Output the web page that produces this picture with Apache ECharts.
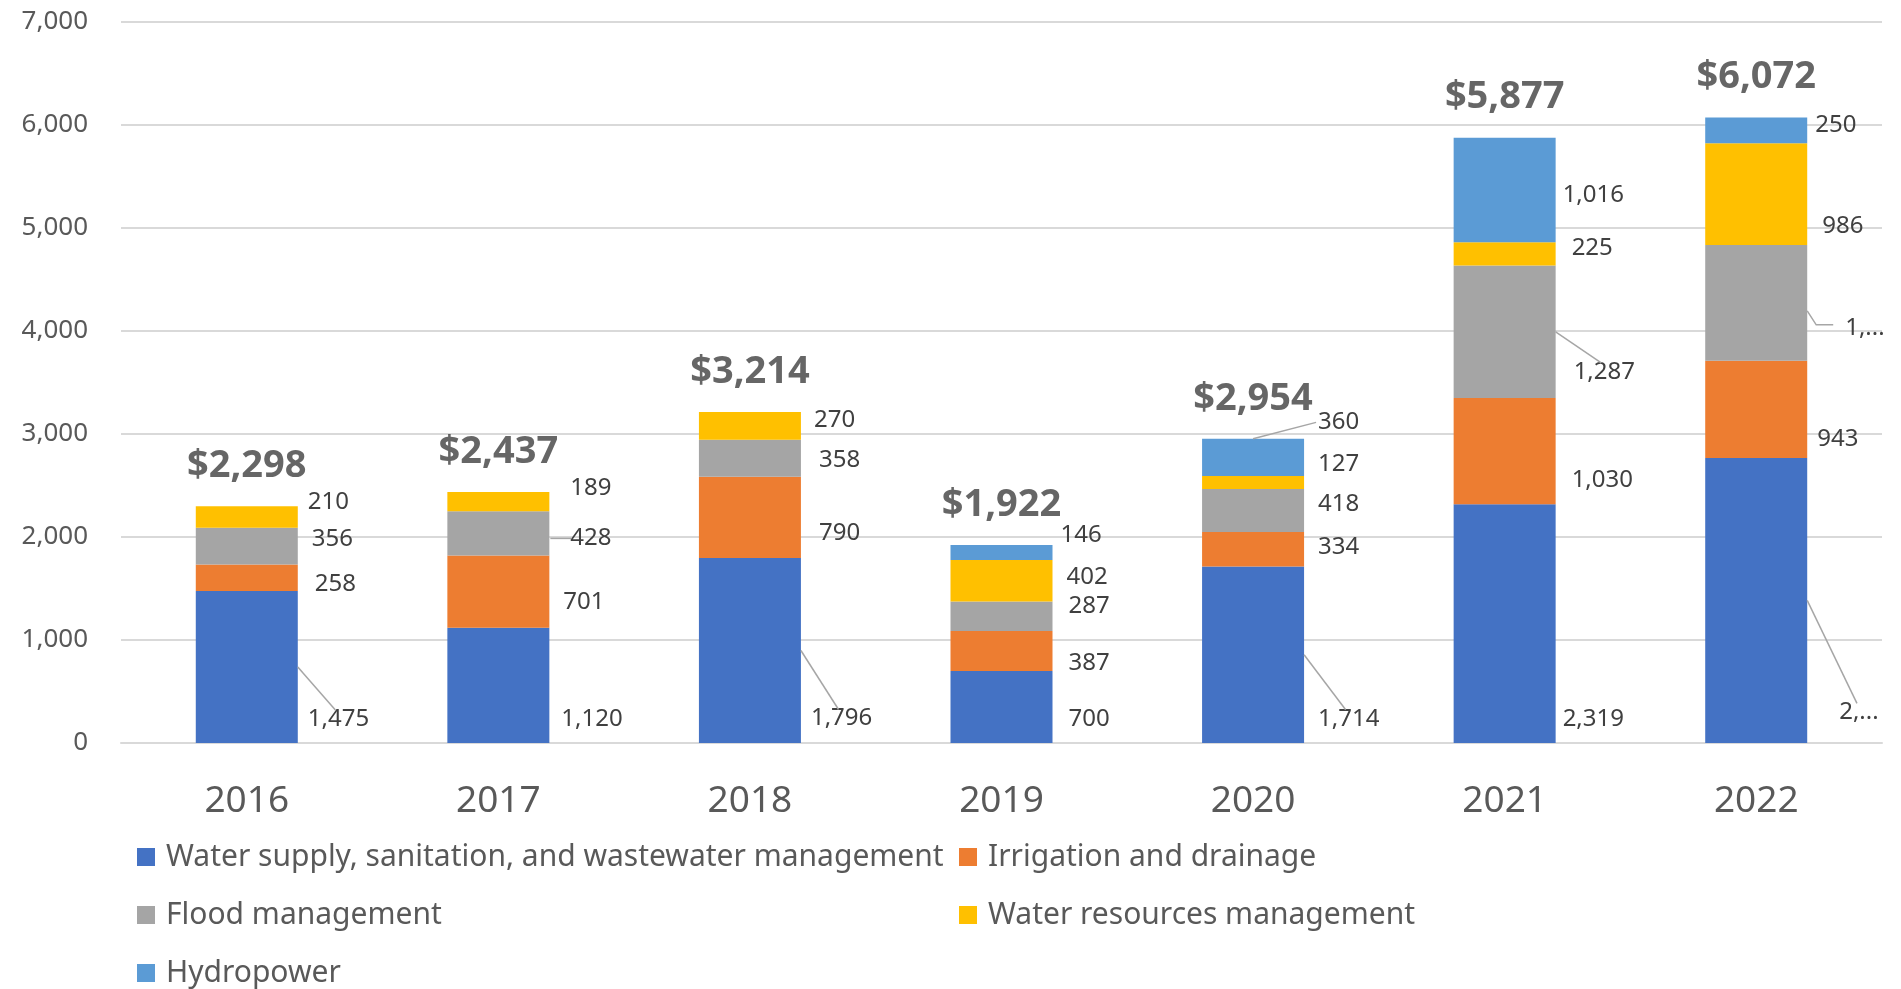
<!DOCTYPE html>
<html>
<head>
<meta charset="utf-8">
<script src="https://cdn.jsdelivr.net/npm/echarts@6/dist/echarts.min.js"></script>
<style>
  html, body { margin: 0; padding: 0; background: #fff; }
  #main { width: 1901px; height: 989px; }
</style>
</head>
<body>
<div id="main"></div>
<script>
// categories
const years = ['2016', '2017', '2018', '2019', '2020', '2021', '2022'];

// series values (US$ millions)
const waterSupply = [1475, 1120, 1796, 700, 1714, 2319, 2768];
const irrigation = [258, 701, 790, 387, 334, 1030, 943];
const flood = [356, 428, 358, 287, 418, 1287, 1125];
const waterResources = [210, 189, 270, 402, 127, 225, 986];
const hydropower = [null, null, null, 146, 360, 1016, 250];
const totals = [2298, 2437, 3214, 1922, 2954, 5877, 6072];

// value axis
const yMin = 0;
const yMax = 7000;
const yStep = 1000;

const names = [
  'Water supply, sanitation, and wastewater management',
  'Irrigation and drainage',
  'Flood management',
  'Water resources management',
  'Hydropower'
];
const colors = ['#4472C4', '#ED7D31', '#A5A5A5', '#FFC000', '#5B9BD5'];

// label nudges [dx, dy, leader type] -- the labels were placed by hand in the original
// leader type: 0 none, 1 diagonal down, 2 short dash, 3 elbow, 4 up from top edge
const nudge = [
  [[-4, 52, 1], [-2, 34, 0], [-4, 68, 1], [2, 12, 0], [0, 64, 1], [-7, 96, 0], [18, 112, 1]],
  [[3, 6, 0], [0, 11, 0], [4, 16, 0], [2, 12, 0], [0, -2, 0], [2, 29, 0], [-4, 30, 0]],
  [[0, -7, 0], [7, 5, 2], [4, 2, 0], [2, -10, 0], [0, -6, 0], [4, 40, 1], [24, 25, 3]],
  [[-4, -15, 0], [7, -13, 0], [-1, -6, 0], [0, -4, 0], [0, -18, 0], [2, -6, 0], [1, 32, 0]],
  [[0, 0, 0], [0, 0, 0], [0, 0, 0], [-6, -17, 0], [0, -35, 4], [-7, 5, 0], [-6, -5, 0]]
];
// labels clipped at the right edge in the original
const clipped = { 0: [6], 2: [6] };

const fmt = (v) => v.toLocaleString('en-US');
const FONT = 'Noto Sans';
const LEADER = { stroke: '#A6A6A6', lineWidth: 1.5 };

const chart = echarts.init(document.getElementById('main'));
const placed = {};

const stackSeries = [waterSupply, irrigation, flood, waterResources, hydropower].map((arr, si) => ({
  name: names[si],
  type: 'bar',
  stack: 'total',
  barWidth: 102,
  itemStyle: { color: colors[si] },
  label: {
    show: true,
    position: 'right',
    distance: 14,
    color: '#404040',
    fontFamily: FONT,
    fontSize: 24,
    formatter: (p) => fmt(p.value)
  },
  labelLayout: (p) => {
    const n = nudge[si][p.dataIndex];
    if (n[2]) {
      placed[si + '_' + p.dataIndex] = {
        type: n[2],
        r: p.rect,
        l: { x: p.labelRect.x + n[0], y: p.labelRect.y + n[1], w: p.labelRect.width, h: p.labelRect.height }
      };
    }
    return { dx: n[0], dy: n[1] };
  },
  data: arr.map((v, i) => {
    if (v == null) return null;
    const item = { value: v };
    if (clipped[si] && clipped[si].indexOf(i) >= 0) {
      item.label = { width: 47, overflow: 'truncate', ellipsis: '...' };
    }
    return item;
  })
}));

const legendBase = {
  orient: 'vertical',
  top: 842,
  padding: 0,
  itemGap: 28,
  itemWidth: 18,
  itemHeight: 18,
  icon: 'rect',
  textStyle: { color: '#595959', fontSize: 30, fontFamily: FONT, padding: [0, 0, 0, 6] }
};

const option = {
  animation: false,
  backgroundColor: '#fff',
  textStyle: { fontFamily: FONT },
  grid: { left: 121, right: 19, top: 22, bottom: 246 },
  legend: [
    Object.assign({}, legendBase, { left: 137, data: [names[0], names[2], names[4]] }),
    Object.assign({}, legendBase, { left: 959, data: [names[1], names[3]] })
  ],
  xAxis: {
    type: 'category',
    data: years,
    axisTick: { show: false },
    axisLine: { lineStyle: { color: '#D9D9D9', width: 2 } },
    axisLabel: { color: '#595959', fontSize: 37, fontFamily: FONT, margin: 40 }
  },
  yAxis: {
    type: 'value',
    min: yMin,
    max: yMax,
    interval: yStep,
    axisLine: { show: false },
    axisTick: { show: false },
    splitLine: { lineStyle: { color: '#D9D9D9', width: 2 } },
    axisLabel: {
      color: '#595959',
      fontSize: 26,
      fontFamily: FONT,
      margin: 33,
      formatter: (v) => fmt(v)
    }
  },
  series: stackSeries.concat([
    {
      name: 'Total',
      type: 'scatter',
      symbolSize: 0,
      silent: true,
      z: 10,
      label: {
        show: true,
        position: 'top',
        distance: 21,
        color: '#404040',
        fontFamily: FONT,
        fontWeight: 'bold',
        fontSize: 38,
        formatter: (p) => '$' + fmt(p.value)
      },
      data: totals
    }
  ])
};

chart.setOption(option);

// leader lines from the bar segment to its moved label
const leaders = Object.keys(placed).map((k) => {
  const { type, r, l } = placed[k];
  const right = r.x + r.width;
  const midY = r.y + r.height / 2;
  const lc = l.y + l.h / 2;
  let pts;
  if (type === 1) {
    pts = [[right, midY], [l.x + l.w * 0.45, l.y + 3]];
  } else if (type === 2) {
    pts = [[right + 1, lc], [l.x + 1, lc]];
  } else if (type === 3) {
    pts = [[right, midY + 8], [right + 9, lc - 3], [l.x - 12, lc - 3]];
  } else {
    pts = [[r.x + r.width * 0.5, r.y], [l.x - 2, lc]];
  }
  return { type: 'polyline', silent: true, z: 100, shape: { points: pts }, style: Object.assign({ fill: null }, LEADER) };
});
chart.setOption({ graphic: leaders });
</script>
</body>
</html>
